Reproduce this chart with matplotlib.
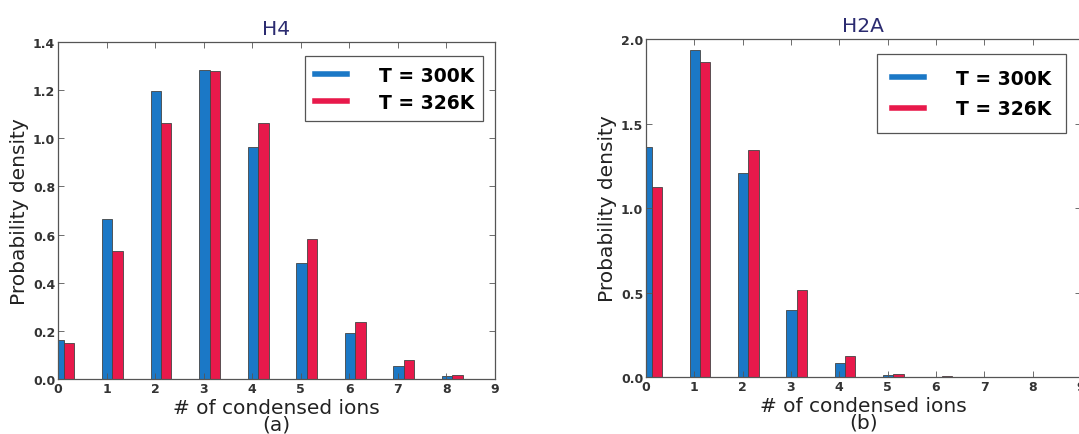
import matplotlib
matplotlib.use("Agg")
import matplotlib.pyplot as plt
import numpy as np
from matplotlib.lines import Line2D

ions = [0, 1, 2, 3, 4, 5, 6, 7, 8]
h4_300 = [0.164, 0.665, 1.196, 1.285, 0.962, 0.481, 0.193, 0.054, 0.011]
h4_326 = [0.148, 0.531, 1.063, 1.281, 1.063, 0.582, 0.237, 0.078, 0.015]
h2a_300 = [1.364, 1.937, 1.208, 0.394, 0.083, 0.014, 0.002, 0.0, 0.0]
h2a_326 = [1.123, 1.862, 1.346, 0.516, 0.124, 0.018, 0.004, 0.0, 0.0]
labels = ["T = 300K", "T = 326K"]
titles = ["H4", "H2A"]
sublabels = ["(a)", "(b)"]

blue = "#1b78c6"
red = "#e8194b"
navy = "#2b2b70"
grey = "#555555"

fig = plt.figure(figsize=(10.79, 4.35), dpi=100)
ax1 = fig.add_axes([0.0538, 0.1264, 0.405, 0.7746])
ax2 = fig.add_axes([0.5987, 0.131, 0.403, 0.777])

def draw(ax, b, r, title, sub, ylim, yticks, leg_anchor, labelspacing, borderpad):
    x = np.array(ions, dtype=float)
    w = 0.215
    ax.bar(x - 0.095, b, width=w, align="edge", color=blue, edgecolor="#444444", linewidth=0.6, label=labels[0])
    ax.bar(x + 0.12, r, width=w, align="edge", color=red, edgecolor="#444444", linewidth=0.6, label=labels[1])
    ax.set_xlim(0, 9)
    ax.set_ylim(*ylim)
    ax.set_xticks(range(10))
    ax.set_yticks(yticks)
    ax.tick_params(direction="in", top=True, right=True, length=4, width=0.6, color=grey,
                   labelsize=9, labelcolor="#333333", pad=2)
    for lab in ax.get_xticklabels() + ax.get_yticklabels():
        lab.set_fontweight("bold")
    for s in ax.spines.values():
        s.set_color(grey)
        s.set_linewidth(0.9)
    ax.set_title(title, color=navy, fontsize=14.5, pad=6)
    ax.set_ylabel("Probability density", fontsize=14.5, color="#222222", labelpad=3)
    ax.set_xlabel("# of condensed ions\n" + sub, fontsize=14.5, color="#222222", labelpad=2, linespacing=0.85)
    handles = [Line2D([], [], color=blue, lw=4), Line2D([], [], color=red, lw=4)]
    leg = ax.legend(handles, labels, loc="upper right", bbox_to_anchor=leg_anchor, borderaxespad=0,
                    fancybox=False, edgecolor=grey, framealpha=1,
                    prop={"weight": "bold", "size": 13.5}, handlelength=1.7, handletextpad=1.7,
                    labelspacing=labelspacing, borderpad=borderpad)
    leg.get_frame().set_linewidth(0.9)

draw(ax1, h4_300, h4_326, titles[0], sublabels[0], (0, 1.4), [0, 0.2, 0.4, 0.6, 0.8, 1.0, 1.2, 1.4],
     (0.973, 0.958), 0.45, 0.5)
draw(ax2, h2a_300, h2a_326, titles[1], sublabels[1], (0, 2.0), [0, 0.5, 1.0, 1.5, 2.0],
     (0.966, 0.956), 0.6, 0.8)

fig.savefig("out.png", dpi=100)
